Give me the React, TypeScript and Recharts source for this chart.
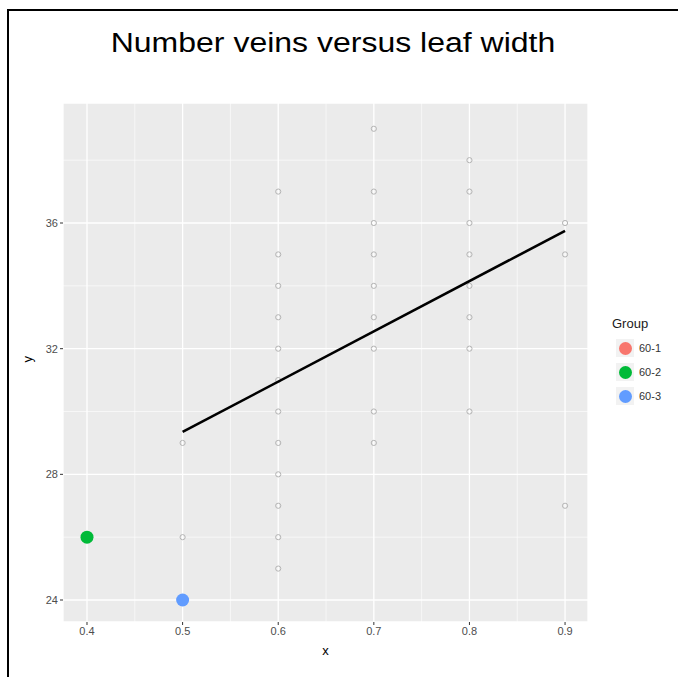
import { ScatterChart, Scatter, XAxis, YAxis, CartesianGrid, ReferenceLine } from "recharts";

// leaf width columns and the vein counts
const veinsAt05 = [26, 29];
const veinsAt06 = [25, 26, 27, 28, 29, 30, 31, 32, 33, 34, 35, 37];
const veinsAt07 = [29, 30, 32, 33, 34, 35, 36, 37, 39];
const veinsAt08 = [30, 32, 33, 34, 35, 36, 37, 38];
const veinsAt09 = [27, 35, 36];

const group601: { x: number; y: number }[] = [];
const group602 = [{ x: 0.4, y: 26 }];
const group603 = [{ x: 0.5, y: 24 }];

const fitX = [0.5, 0.9];
const fitY = [29.35, 35.75];

const xTicks = [0.4, 0.5, 0.6, 0.7, 0.8, 0.9];
const yTicks = [24, 28, 32, 36];
const xMinor = [0.45, 0.55, 0.65, 0.75, 0.85];
const yMinor = [26, 30, 34, 38];

const groups = [
  { name: "60-1", color: "#F8766D" },
  { name: "60-2", color: "#00BA38" },
  { name: "60-3", color: "#619CFF" },
];

const col = (x: number, ys: number[]) => ys.map((y) => ({ x, y }));
const hollow = [
  ...col(0.5, veinsAt05),
  ...col(0.6, veinsAt06),
  ...col(0.7, veinsAt07),
  ...col(0.8, veinsAt08),
  ...col(0.9, veinsAt09),
];
const fitLine = fitX.map((x, i) => ({ x, y: fitY[i] }));

const font = "Liberation Sans, Arial, sans-serif";

const HollowDot = (p: any) => (
  <circle cx={p.cx} cy={p.cy} r={2.6} fill="none" stroke="#b5b5b5" strokeWidth={1} />
);
const bigDot = (color: string) => (p: any) => <circle cx={p.cx} cy={p.cy} r={6.5} fill={color} />;
const NoDot = () => <g />;

const GroupLegend = () => (
  <div style={{ fontFamily: font, color: "#1a1a1a" }}>
    <div style={{ fontSize: 13, marginBottom: 5 }}>Group</div>
    {groups.map((g) => (
      <div key={g.name} style={{ display: "flex", alignItems: "center", height: 24 }}>
        <div
          style={{
            width: 18,
            height: 18,
            background: "#f2f2f2",
            display: "flex",
            alignItems: "center",
            justifyContent: "center",
            marginLeft: 4,
          }}
        >
          <div style={{ width: 13, height: 13, borderRadius: 7, background: g.color }} />
        </div>
        <span style={{ fontSize: 11, marginLeft: 5, color: "#333" }}>{g.name}</span>
      </div>
    ))}
  </div>
);

const App = () => {
  return (
    <div style={{ position: "absolute", left: 0, top: 0, width: 678, height: 677, background: "#fff", overflow: "hidden" }}>
      <div
        style={{
          position: "absolute",
          left: 7,
          top: 9,
          width: 700,
          height: 700,
          borderLeft: "2px solid #000",
          borderTop: "2px solid #000",
        }}
      />
      <div
        style={{
          position: "absolute",
          left: 0,
          width: 666,
          top: 28,
          textAlign: "center",
          fontFamily: font,
          fontSize: 27,
          color: "#000",
          transform: "scaleX(1.185)",
        }}
      >
        Number veins versus leaf width
      </div>
      <div style={{ position: "absolute", left: 0, top: 0 }}>
        <ScatterChart width={678} height={677} margin={{ top: 103, right: 90, bottom: 25, left: 23 }}>
          <CartesianGrid fill="#ebebeb" stroke="#ffffff" strokeWidth={1.3} />
          {xMinor.map((v) => (
            <ReferenceLine key={"xm" + v} x={v} stroke="#ffffff" strokeWidth={0.6} />
          ))}
          {yMinor.map((v) => (
            <ReferenceLine key={"ym" + v} y={v} stroke="#ffffff" strokeWidth={0.6} />
          ))}
          <XAxis
            type="number"
            dataKey="x"
            domain={[0.3749, 0.924]}
            ticks={xTicks}
            allowDataOverflow
            axisLine={false}
            tickLine={{ stroke: "#333" }}
            tickSize={3}
            height={30}
            tick={{ fill: "#4d4d4d", fontSize: 11, fontFamily: font }}
            tickFormatter={(v: number) => v.toFixed(1)}
            label={{ value: "x", position: "bottom", offset: -6, fill: "#000", fontSize: 13, fontFamily: font }}
          />
          <YAxis
            type="number"
            dataKey="y"
            domain={[23.3, 39.82]}
            ticks={yTicks}
            allowDataOverflow
            axisLine={false}
            tickLine={{ stroke: "#333" }}
            tickSize={3}
            width={40}
            tick={{ fill: "#4d4d4d", fontSize: 11, fontFamily: font }}
            label={{ value: "y", angle: -90, position: "insideLeft", offset: 4, fill: "#000", fontSize: 13, fontFamily: font }}
          />
          <Scatter data={hollow} shape={HollowDot} isAnimationActive={false} legendType="none" />
          <Scatter
            data={fitLine}
            line={{ stroke: "#000", strokeWidth: 2.6 }}
            shape={NoDot}
            isAnimationActive={false}
            legendType="none"
          />
          <Scatter name="60-1" data={group601} shape={bigDot(groups[0].color)} isAnimationActive={false} />
          <Scatter name="60-2" data={group602} shape={bigDot(groups[1].color)} isAnimationActive={false} />
          <Scatter name="60-3" data={group603} shape={bigDot(groups[2].color)} isAnimationActive={false} />
        </ScatterChart>
      </div>
      <div style={{ position: "absolute", left: 612, top: 316, width: 66 }}>
        <GroupLegend />
      </div>
    </div>
  );
};

export default App;
